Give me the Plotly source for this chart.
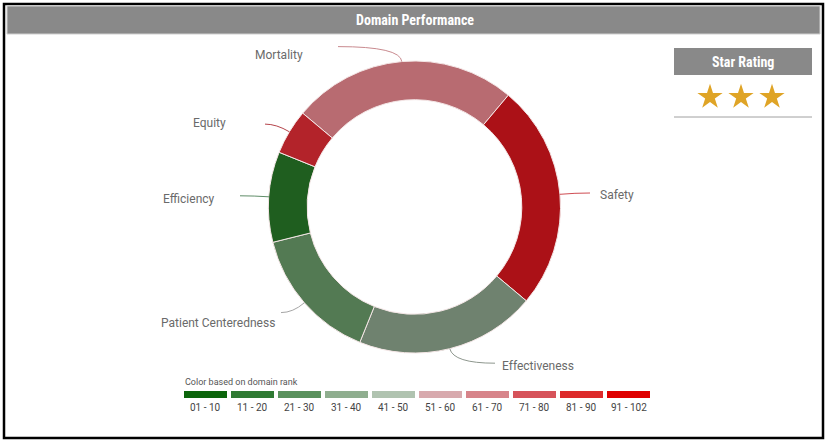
import math
import plotly.graph_objects as go

# ---------------- data ----------------
domains = ["Mortality", "Safety", "Effectiveness", "Patient Centeredness", "Efficiency", "Equity"]
weights = [25, 25, 20, 15, 10, 5]
slice_colors = ["#b86b71", "#ab1117", "#6f826f", "#537a53", "#1f5e1f", "#b3232a"]
line_colors = ["#c98a8f", "#cf4c52", "#8e978e", "#a5a5a5", "#5f8d68", "#b5444b"]

rank_bins = ["01 - 10", "11 - 20", "21 - 30", "31 - 40", "41 - 50",
             "51 - 60", "61 - 70", "71 - 80", "81 - 90", "91 - 102"]
rank_colors = ["#0b650b", "#2f7a33", "#5a915d", "#8fae8f", "#b0c3b0",
               "#d8aaae", "#d7848a", "#d6535a", "#dd2a2b", "#df0000"]

star_rating = 3
title_text = "Domain Performance"
star_title = "Star Rating"
legend_title = "Color based on domain rank"

# ---------------- layout constants (pixels) ----------------
W, H = 827, 442
CX, CY, R = 414.5, 207.0, 146.0
HOLE = 0.735
ROTATION = -50

# label placement style: text x, text y, anchor, leader end x
label_style = {
    "Mortality": (305, 55, "right", 338),
    "Safety": (598, 195, "left", 590),
    "Effectiveness": (500, 366, "left", 495),
    "Patient Centeredness": (277, 323, "right", 281),
    "Efficiency": (217, 199, "right", 240),
    "Equity": (228, 123, "right", 265),
}

def px(x):
    return x / W

def py(y):
    return 1 - y / H

fig = go.Figure()

fig.add_trace(go.Pie(
    labels=domains, values=weights, sort=False, direction="clockwise",
    rotation=ROTATION, hole=HOLE, textinfo="none",
    marker=dict(colors=slice_colors, line=dict(color="#f4e6e6", width=1)),
    domain=dict(x=[px(CX - R), px(CX + R)], y=[py(CY + R), py(CY - R)]),
    showlegend=False, hoverinfo="label+value",
))

# stars
spacing = 31
star_cx = 741
star_x = [star_cx + (i - (star_rating - 1) / 2) * spacing for i in range(star_rating)]
fig.add_trace(go.Scatter(
    x=star_x, y=[97] * star_rating, mode="markers",
    marker=dict(symbol="star", size=19, color="#dfa426", line=dict(width=0)),
    showlegend=False, hoverinfo="skip",
))

shapes = []
annotations = []

# outer border
shapes.append(dict(type="rect", xref="x", yref="y", x0=4, x1=823, y0=4, y1=438,
                   line=dict(color="#000000", width=2.5), fillcolor="rgba(0,0,0,0)"))
# header
shapes.append(dict(type="rect", xref="x", yref="y", x0=7, x1=820, y0=6, y1=34,
                   line=dict(color="#cfcfcf", width=1), fillcolor="#898989"))
annotations.append(dict(x=CX, y=20, xref="x", yref="y", text=title_text, showarrow=False,
                        font=dict(family="Roboto Condensed, Liberation Sans Narrow, Roboto",
                                  size=14, color="white", weight="bold")))

# star rating box
shapes.append(dict(type="rect", xref="x", yref="y", x0=674, x1=812, y0=48, y1=75,
                   line=dict(width=0), fillcolor="#898989"))
annotations.append(dict(x=743, y=61.5, xref="x", yref="y", text=star_title, showarrow=False,
                        font=dict(family="Roboto Condensed, Liberation Sans Narrow, Roboto",
                                  size=14, color="white", weight="bold")))
shapes.append(dict(type="line", xref="x", yref="y", x0=674, x1=812, y0=117, y1=117,
                   line=dict(color="#a0a0a0", width=1)))

# leader lines and labels
total = sum(weights)
start = ROTATION
for name, w, lc in zip(domains, weights, line_colors):
    mid = math.radians(start + 360 * w / total / 2)
    start += 360 * w / total
    px0, py0 = CX + R * math.sin(mid), CY - R * math.cos(mid)
    ex, ey = CX + (R + 15) * math.sin(mid), CY - (R + 15) * math.cos(mid)
    tx, ty, anchor, lx = label_style[name]
    path = f"M {px0:.1f},{py0:.1f} Q {ex:.1f},{ey:.1f} {lx:.1f},{ey:.1f}"
    shapes.append(dict(type="path", xref="x", yref="y", path=path,
                       line=dict(color=lc, width=1)))
    annotations.append(dict(x=tx, y=ty, xref="x", yref="y", text=name, showarrow=False,
                            xanchor=anchor, font=dict(family="Roboto", size=12, color="#6a6a6a")))

# color legend
annotations.append(dict(x=183, y=382, xref="x", yref="y", text=legend_title, showarrow=False,
                        xanchor="left", font=dict(family="Roboto", size=9, color="#555555")))
for i, (lab, col) in enumerate(zip(rank_bins, rank_colors)):
    x0 = 184 + 47 * i
    shapes.append(dict(type="rect", xref="x", yref="y", x0=x0, x1=x0 + 43, y0=391, y1=398,
                       line=dict(width=0), fillcolor=col))
    annotations.append(dict(x=x0 + 21.5, y=407.5, xref="x", yref="y", text=lab, showarrow=False,
                            font=dict(family="Roboto", size=10, color="#444444")))

fig.update_layout(
    width=W, height=H, margin=dict(l=0, r=0, t=0, b=0),
    paper_bgcolor="white", plot_bgcolor="rgba(0,0,0,0)",
    xaxis=dict(range=[0, W], visible=False, fixedrange=True),
    yaxis=dict(range=[H, 0], visible=False, fixedrange=True),
    shapes=shapes, annotations=annotations,
)

fig.write_html("out.html", config={"displayModeBar": False},
               post_script="document.body.style.margin='0';")
